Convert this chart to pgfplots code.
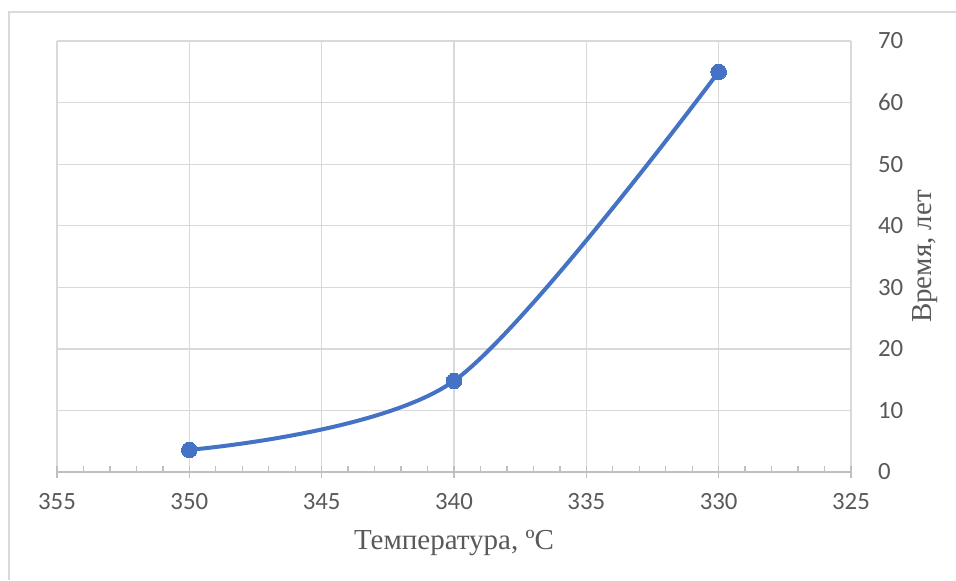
\documentclass[border=0pt]{standalone}
\usepackage{pgfplots}
\pgfplotsset{compat=1.18}
\usepackage{fontspec}
\setmainfont{Liberation Serif}
\newfontfamily\calibri{Carlito}
\definecolor{gridgray}{HTML}{D9D9D9}
\definecolor{axisgray}{HTML}{BFBFBF}
\definecolor{txtgray}{HTML}{595959}
\definecolor{xlblue}{HTML}{4472C4}
\begin{document}
\begin{tikzpicture}
\useasboundingbox (0,0) rectangle (478pt,290pt);
% outer chart frame (only top and left edges visible)
\draw[gridgray, line width=0.7pt] (4.5pt,0) -- (4.5pt,284pt) -- (478pt,284pt);
\begin{axis}[
    at={(28.5pt,54pt)}, anchor=south west,
    scale only axis,
    width=397pt, height=215.5pt,
    x dir=reverse,
    xmin=325, xmax=355,
    ymin=0, ymax=70,
    xtick distance=5, ytick distance=10,
    minor x tick num=4,
    axis x line*=bottom,
    axis y line*=right,
    x axis line style={axisgray, line width=0.7pt, -},
    y axis line style={draw=none},
    grid=major,
    major grid style={gridgray, line width=0.65pt},
    tick align=center,
    major tick length=6pt,
    minor tick length=3pt,
    xtick style={axisgray, line width=0.65pt},
    minor x tick style={axisgray, line width=0.65pt, yshift=1.5pt},
    ytick style={draw=none},
    /pgf/number format/assume math mode=true,
    ticklabel style={font=\calibri\fontsize{12.4}{14}\selectfont, text=txtgray},
    xticklabel style={yshift=-4pt},
    yticklabel style={anchor=west, xshift=7pt},
    xlabel={Температура, ºC},
    ylabel={Время, лет},
    label style={font=\fontsize{14.5}{17}\selectfont, text=txtgray},
    xlabel style={at={(axis description cs:0.5,0)}, anchor=center, yshift=-35.5pt},
    ylabel style={at={(axis description cs:1,0.5)}, anchor=center, yshift=-37pt},
]
\addplot[color=xlblue, line width=2pt, smooth,
    mark=*, mark size=3.9pt, mark options={fill=xlblue, draw=xlblue, line width=0pt}]
coordinates {
    (350,3.6)(340,14.8)(330,65)
};
\end{axis}
\end{tikzpicture}
\end{document}
